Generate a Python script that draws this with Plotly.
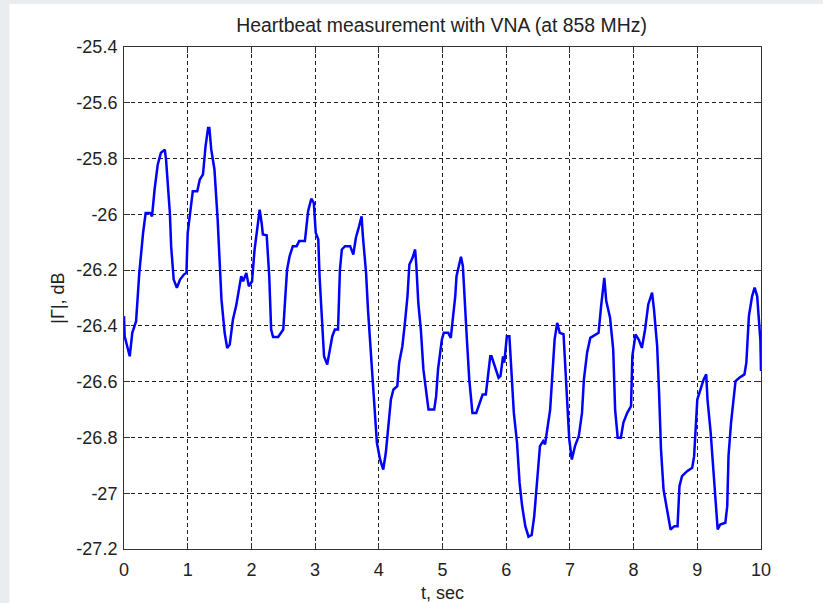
import plotly.graph_objects as go

t_sec = [0.00, 0.01, 0.09, 0.13, 0.19, 0.24, 0.30, 0.34, 0.41, 0.44, 0.48, 0.53, 0.58, 0.64, 0.66,
         0.72, 0.74, 0.78, 0.83, 0.88, 0.94, 0.98, 1.00, 1.04, 1.08, 1.15, 1.19, 1.24, 1.28, 1.32,
         1.34, 1.37, 1.42, 1.47, 1.53, 1.58, 1.62, 1.66, 1.71, 1.76, 1.82, 1.84, 1.87, 1.92, 1.96,
         2.01, 2.05, 2.09, 2.13, 2.16, 2.18, 2.24, 2.28, 2.31, 2.34, 2.42, 2.47, 2.50, 2.52, 2.56,
         2.60, 2.65, 2.71, 2.75, 2.84, 2.86, 2.89, 2.94, 2.98, 3.01, 3.05, 3.07, 3.10, 3.14, 3.19,
         3.23, 3.27, 3.31, 3.36, 3.39, 3.42, 3.47, 3.55, 3.60, 3.64, 3.69, 3.73, 3.75, 3.80, 3.83,
         3.87, 3.90, 3.94, 3.97, 4.02, 4.07, 4.11, 4.15, 4.19, 4.23, 4.29, 4.32, 4.37, 4.41, 4.45,
         4.48, 4.53, 4.57, 4.59, 4.62, 4.66, 4.70, 4.74, 4.78, 4.87, 4.90, 4.93, 4.99, 5.02, 5.09,
         5.13, 5.16, 5.20, 5.22, 5.26, 5.29, 5.32, 5.35, 5.38, 5.42, 5.47, 5.53, 5.58, 5.63, 5.68,
         5.72, 5.75, 5.77, 5.83, 5.88, 5.91, 5.95, 5.97, 6.01, 6.05, 6.09, 6.12, 6.17, 6.21, 6.25,
         6.30, 6.35, 6.40, 6.44, 6.47, 6.50, 6.53, 6.58, 6.61, 6.64, 6.69, 6.73, 6.76, 6.80, 6.84,
         6.90, 6.93, 6.96, 6.99, 7.03, 7.08, 7.14, 7.19, 7.22, 7.27, 7.32, 7.40, 7.45, 7.49, 7.52,
         7.54, 7.57, 7.63, 7.68, 7.71, 7.75, 7.80, 7.84, 7.90, 7.96, 7.98, 8.03, 8.08, 8.13, 8.18,
         8.23, 8.29, 8.32, 8.37, 8.40, 8.43, 8.47, 8.52, 8.58, 8.64, 8.69, 8.72, 8.76, 8.84, 8.92,
         8.95, 9.00, 9.05, 9.10, 9.14, 9.16, 9.21, 9.25, 9.28, 9.32, 9.36, 9.44, 9.47, 9.49, 9.53,
         9.56, 9.60, 9.66, 9.74, 9.77, 9.81, 9.86, 9.90, 9.94, 9.98, 9.99, 10.00]

gamma_db = [-26.365, -26.437, -26.509, -26.425, -26.383, -26.210, -26.066, -25.995, -25.995, -26.007,
            -25.911, -25.821, -25.779, -25.768, -25.803, -25.995, -26.114, -26.234, -26.263, -26.234,
            -26.216, -26.210, -26.066, -25.983, -25.917, -25.917, -25.875, -25.857, -25.756, -25.690,
            -25.690, -25.768, -25.839, -26.018, -26.305, -26.425, -26.479, -26.467, -26.377, -26.329,
            -26.258, -26.222, -26.240, -26.210, -26.258, -26.240, -26.126, -26.043, -25.983, -26.030,
            -26.072, -26.075, -26.222, -26.413, -26.440, -26.440, -26.425, -26.413, -26.341, -26.198,
            -26.150, -26.114, -26.114, -26.096, -26.096, -26.048, -25.989, -25.944, -25.959, -26.066,
            -26.090, -26.222, -26.353, -26.509, -26.539, -26.485, -26.437, -26.413, -26.413, -26.198,
            -26.126, -26.114, -26.114, -26.144, -26.084, -26.043, -26.007, -26.078, -26.210, -26.341,
            -26.485, -26.604, -26.747, -26.819, -26.879, -26.915, -26.855, -26.771, -26.664, -26.628,
            -26.616, -26.532, -26.473, -26.389, -26.294, -26.180, -26.156, -26.126, -26.186, -26.317,
            -26.413, -26.556, -26.628, -26.700, -26.700, -26.652, -26.556, -26.449, -26.425, -26.425,
            -26.443, -26.383, -26.294, -26.222, -26.174, -26.152, -26.186, -26.329, -26.437, -26.592,
            -26.712, -26.712, -26.676, -26.646, -26.646, -26.556, -26.509, -26.509, -26.556, -26.586,
            -26.580, -26.509, -26.532, -26.437, -26.437, -26.592, -26.712, -26.819, -26.963, -27.046,
            -27.118, -27.156, -27.150, -27.082, -27.010, -26.915, -26.831, -26.813, -26.825, -26.771,
            -26.700, -26.556, -26.449, -26.389, -26.425, -26.430, -26.556, -26.688, -26.807, -26.879,
            -26.831, -26.795, -26.712, -26.592, -26.496, -26.443, -26.430, -26.425, -26.329, -26.258,
            -26.228, -26.310, -26.370, -26.485, -26.700, -26.801, -26.801, -26.747, -26.712, -26.688,
            -26.509, -26.431, -26.449, -26.479, -26.413, -26.323, -26.281, -26.341, -26.473, -26.640,
            -26.843, -26.987, -27.046, -27.130, -27.118, -27.118, -26.975, -26.939, -26.921, -26.909,
            -26.867, -26.664, -26.628, -26.592, -26.574, -26.664, -26.783, -26.903, -27.022, -27.130,
            -27.112, -27.106, -27.046, -26.867, -26.747, -26.676, -26.598, -26.586, -26.574, -26.532,
            -26.365, -26.294, -26.263, -26.294, -26.401, -26.450, -26.562]

x_ticks = [0, 1, 2, 3, 4, 5, 6, 7, 8, 9, 10]
y_ticks = [-27.2, -27.0, -26.8, -26.6, -26.4, -26.2, -26.0, -25.8, -25.6, -25.4]
y_tick_text = ["-27.2", "-27", "-26.8", "-26.6", "-26.4", "-26.2", "-26", "-25.8", "-25.6", "-25.4"]

FONT = "Arial, Liberation Sans, sans-serif"

fig = go.Figure()
fig.add_trace(go.Scatter(x=t_sec, y=gamma_db, mode="lines",
                         line=dict(color="#0000ff", width=2.5), showlegend=False))

axis_common = dict(
    showline=True, linecolor="#333333", linewidth=1, mirror="allticks",
    ticks="inside", ticklen=6, tickcolor="#333333", tickwidth=1,
    showgrid=True, gridcolor="#222222", gridwidth=1, griddash="4px,3px",
    zeroline=False, automargin=False, tickfont=dict(family=FONT, size=18, color="#222222"),
)

fig.update_xaxes(range=[0, 10], tickvals=x_ticks, ticklabelstandoff=4,
                 title=dict(text="t, sec", font=dict(family=FONT, size=18, color="#222222"), standoff=13),
                 **axis_common)
fig.update_yaxes(range=[-27.2, -25.4], tickvals=y_ticks, ticktext=y_tick_text, ticklabelstandoff=2,
                 title=dict(text="|Γ|, dB", font=dict(family=FONT, size=18, color="#222222"), standoff=7),
                 **axis_common)

fig.update_layout(
    width=823, height=603,
    margin=dict(l=124, r=62, t=47, b=54, autoexpand=False),
    paper_bgcolor="#e9edf0", plot_bgcolor="#ffffff",
    title=dict(text="Heartbeat measurement with VNA (at 858 MHz)", x=0.5365, xanchor="center",
               y=0.958, yanchor="middle", font=dict(family=FONT, size=19.4, color="#222222")),
    shapes=[dict(type="rect", xref="paper", yref="paper", x0=-0.18, x1=1.2, y0=-0.2, y1=1.0857,
                 fillcolor="#ffffff", line=dict(width=0), layer="below")],
)

fig.write_html("out.html")
